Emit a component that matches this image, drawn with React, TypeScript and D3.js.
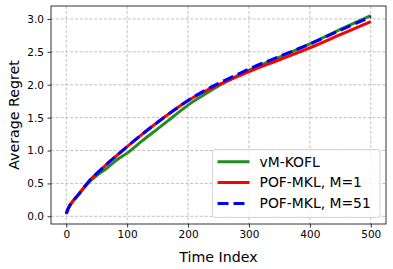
import { useRef, useEffect } from "react";
import * as d3 from "d3";

// time steps and the three regret curves
const timeIndex = [0, 5, 10, 20, 30, 40, 50, 65, 85, 100, 125, 150, 175, 200, 225, 250, 275, 300, 350, 400, 450, 500];
const vmKofl = [0.04, 0.15, 0.22, 0.33, 0.44, 0.54, 0.62, 0.72, 0.87, 0.96, 1.15, 1.33, 1.51, 1.69, 1.84, 1.98, 2.11, 2.22, 2.42, 2.62, 2.84, 3.05];
const pofM1 = [0.04, 0.15, 0.22, 0.33, 0.45, 0.56, 0.65, 0.78, 0.94, 1.06, 1.25, 1.43, 1.6, 1.76, 1.89, 2.0, 2.1, 2.2, 2.38, 2.56, 2.76, 2.96];
const pofM51 = [0.04, 0.15, 0.22, 0.33, 0.45, 0.56, 0.65, 0.78, 0.94, 1.06, 1.25, 1.43, 1.6, 1.76, 1.9, 2.02, 2.13, 2.24, 2.43, 2.62, 2.83, 3.03];

const xTicks = [0, 100, 200, 300, 400, 500];
const yTicks = [0, 0.5, 1.0, 1.5, 2.0, 2.5, 3.0];

const series = [
  { name: "vM-KOFL", values: vmKofl, color: "#228B22", dash: null },
  { name: "POF-MKL, M=1", values: pofM1, color: "#ff0000", dash: null },
  { name: "POF-MKL, M=51", values: pofM51, color: "#0000ff", dash: "11,5" },
];

const width = 393;
const height = 269;
const margin = { top: 6, right: 7, bottom: 45, left: 51 };
const font = "DejaVu Sans, sans-serif";

const RegretChart = () => {
  const svgRef = useRef<SVGSVGElement>(null);

  useEffect(() => {
    const svg = d3.select(svgRef.current);
    svg.selectAll("*").remove();

    const x = d3.scaleLinear().domain([-25, 525]).range([margin.left, width - margin.right]);
    const y = d3.scaleLinear().domain([-0.117, 3.197]).range([height - margin.bottom, margin.top]);

    const gridColor = "#b0b0b0";

    // grid
    svg
      .append("g")
      .selectAll("line")
      .data(xTicks)
      .join("line")
      .attr("x1", (d) => x(d))
      .attr("x2", (d) => x(d))
      .attr("y1", margin.top)
      .attr("y2", height - margin.bottom)
      .attr("stroke", gridColor)
      .attr("stroke-width", 0.8)
      .attr("stroke-dasharray", "3,1.8");

    svg
      .append("g")
      .selectAll("line")
      .data(yTicks)
      .join("line")
      .attr("x1", margin.left)
      .attr("x2", width - margin.right)
      .attr("y1", (d) => y(d))
      .attr("y2", (d) => y(d))
      .attr("stroke", gridColor)
      .attr("stroke-width", 0.8)
      .attr("stroke-dasharray", "3,1.8");

    // lines
    const line = d3
      .line<number>()
      .x((_, i) => x(timeIndex[i]))
      .y((d) => y(d))
      .curve(d3.curveMonotoneX);

    series.forEach((s) => {
      svg
        .append("path")
        .attr("d", line(s.values))
        .attr("fill", "none")
        .attr("stroke", s.color)
        .attr("stroke-width", 3)
        .attr("stroke-dasharray", s.dash);
    });

    // axes
    const xAxis = svg
      .append("g")
      .attr("transform", `translate(0,${height - margin.bottom})`)
      .call(d3.axisBottom(x).tickValues(xTicks).tickSize(3.5).tickPadding(3.5).tickSizeOuter(0));
    const yAxis = svg
      .append("g")
      .attr("transform", `translate(${margin.left},0)`)
      .call(
        d3
          .axisLeft(y)
          .tickValues(yTicks)
          .tickFormat(d3.format(".1f"))
          .tickSize(3.5)
          .tickPadding(3.5)
          .tickSizeOuter(0)
      );
    [xAxis, yAxis].forEach((g) => {
      g.select(".domain").remove();
      g.selectAll("line").attr("stroke", "#000").attr("stroke-width", 0.8);
      g.selectAll("text").attr("fill", "#000").style("font-family", font).style("font-size", "10.5px");
    });

    // frame
    svg
      .append("rect")
      .attr("x", margin.left)
      .attr("y", margin.top)
      .attr("width", width - margin.left - margin.right)
      .attr("height", height - margin.top - margin.bottom)
      .attr("fill", "none")
      .attr("stroke", "#000")
      .attr("stroke-width", 0.8);

    // axis labels
    svg
      .append("text")
      .attr("x", (margin.left + width - margin.right) / 2)
      .attr("y", 262)
      .attr("text-anchor", "middle")
      .style("font-family", font)
      .style("font-size", "14.2px")
      .text("Time Index");

    svg
      .append("text")
      .attr("transform", `translate(18.5,${(margin.top + height - margin.bottom) / 2}) rotate(-90)`)
      .attr("text-anchor", "middle")
      .style("font-family", font)
      .style("font-size", "14.2px")
      .text("Average Regret");

    // legend
    const legend = svg.append("g").attr("transform", "translate(212.5,149.5)");
    legend
      .append("rect")
      .attr("width", 167.5)
      .attr("height", 68)
      .attr("rx", 2.5)
      .attr("fill", "#fff")
      .attr("fill-opacity", 0.8)
      .attr("stroke", "#cccccc")
      .attr("stroke-width", 0.8);

    series.forEach((s, i) => {
      const row = legend.append("g").attr("transform", `translate(0,${12.3 + i * 20.8})`);
      row
        .append("line")
        .attr("x1", 5)
        .attr("x2", 37)
        .attr("stroke", s.color)
        .attr("stroke-width", 3)
        .attr("stroke-dasharray", s.dash);
      row
        .append("text")
        .attr("x", 47)
        .attr("dy", "0.35em")
        .style("font-family", font)
        .style("font-size", "13.9px")
        .text(s.name);
    });
  }, []);

  return <svg ref={svgRef} width={width} height={height} />;
};

export default function App() {
  return (
    <div style={{ position: "absolute", left: 0, top: 0, background: "#fff" }}>
      <RegretChart />
    </div>
  );
}
